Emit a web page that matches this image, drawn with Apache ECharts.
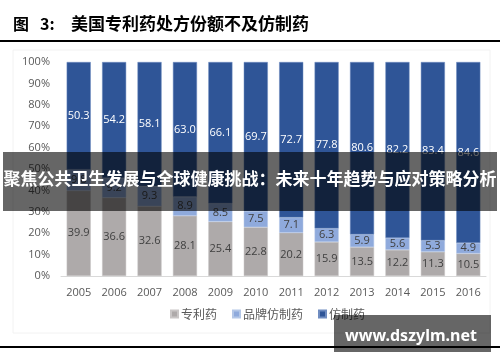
<!DOCTYPE html>
<html><head><meta charset="utf-8">
<script src="https://cdn.jsdelivr.net/npm/echarts@6/dist/echarts.min.js"></script>
<style>html,body{margin:0;padding:0;background:#fff}#c{width:500px;height:362px}</style>
</head><body><div id="c"></div>
<script>
const years = ['2005','2006','2007','2008','2009','2010','2011','2012','2013','2014','2015','2016'];
const patent = [39.9,36.6,32.6,28.1,25.4,22.8,20.2,15.9,13.5,12.2,11.3,10.5];
const brandedGeneric = [9.8,9.2,9.3,8.9,8.5,7.5,7.1,6.3,5.9,5.6,5.3,4.9];
const generic = [50.3,54.2,58.1,63.0,66.1,69.7,72.7,77.8,80.6,82.2,83.4,84.6];
const yTicks = [0,10,20,30,40,50,60,70,80,90,100];
const seriesNames = ['专利药','品牌仿制药','仿制药'];
const titleText = '美国专利药处方份额不及仿制药';
const bannerText = '聚焦公共卫生发展与全球健康挑战：未来十年趋势与应对策略分析';
const watermarkText = 'www.dszylm.net';

const chart = echarts.init(document.getElementById('c'));
const font = '"Noto Sans CJK SC", "Noto Sans", sans-serif';
const lbl = (color) => ({show:true, position:'inside', color, fontSize:11, fontFamily:'"Open Sans", "Noto Sans", sans-serif', formatter: p => p.value.toFixed(1)});
chart.setOption({
  animation:false,
  textStyle:{fontFamily:font},
  grid:{left:61, right:14, top:62, bottom:86},
  legend:{
    bottom:37, left:165, itemWidth:7, itemHeight:7, itemGap:15, icon:'rect',
    textStyle:{color:'#595959', fontSize:12, padding:[0,0,0,-2]},
    data:seriesNames
  },
  xAxis:{type:'category', data:years,
    axisLine:{lineStyle:{color:'#d9d9d9'}}, axisTick:{show:false},
    axisLabel:{color:'#595959', fontSize:11, margin:11, fontFamily:'"Open Sans", sans-serif'}},
  yAxis:{type:'value', min:yTicks[0], max:yTicks[yTicks.length-1], interval:10,
    splitLine:{show:false}, axisLine:{show:false}, axisTick:{show:false},
    axisLabel:{color:'#595959', fontSize:11, margin:11, fontFamily:'"Open Sans", sans-serif', formatter:'{value}%'}},
  series:[
    {name:seriesNames[0], type:'bar', stack:'a', barWidth:'68%', data:patent,
     itemStyle:{color:'#aeaaaa', borderColor:'#c9c6c6', borderWidth:0.5}, label:lbl('#404040')},
    {name:seriesNames[1], type:'bar', stack:'a', data:brandedGeneric,
     itemStyle:{color:'#8faadc', borderColor:'#b4c7e7', borderWidth:0.5}, label:lbl('#404040')},
    {name:seriesNames[2], type:'bar', stack:'a', data:generic,
     itemStyle:{color:'#2f5597', borderColor:'#6f8cc0', borderWidth:0.5}, label:lbl('#ffffff')}
  ],
  graphic:[
    {type:'rect', z:-1, silent:true, shape:{x:13, y:50, width:477, height:283}, style:{fill:'none', stroke:'#f2f2f2', lineWidth:1}},
    {type:'text', left:13, top:16, style:{text:'图', font:'bold 16px "Noto Sans CJK SC"', fill:'#000'}},
    {type:'text', left:40, top:16, style:{text:'3:', font:'bold 16px "Noto Sans CJK SC"', fill:'#000'}},
    {type:'text', left:71, top:15, style:{text:titleText, font:'bold 17px "Noto Sans CJK SC"', fill:'#000'}},
    {type:'rect', shape:{x:0, y:40, width:500, height:2}, style:{fill:'#000'}},
    {type:'rect', shape:{x:0, y:346, width:500, height:2}, style:{fill:'#000'}},
    {type:'rect', z:100, shape:{x:3, y:152, width:494, height:59}, style:{fill:'rgba(0,0,0,0.6)'}},
    {type:'text', z:101, x:250, y:179, style:{text:bannerText, font:'bold 17px "Noto Sans CJK SC"', fill:'#fff', textAlign:'center', textVerticalAlign:'middle'}},
    {type:'rect', z:100, shape:{x:334, y:315, width:157, height:37}, style:{fill:'rgba(0,0,0,0.6)'}},
    {type:'text', z:101, x:411, y:336, style:{text:watermarkText, font:'bold 16px "Noto Sans", sans-serif', fill:'#fff', textAlign:'center', textVerticalAlign:'middle'}}
  ]
});
</script></body></html>
